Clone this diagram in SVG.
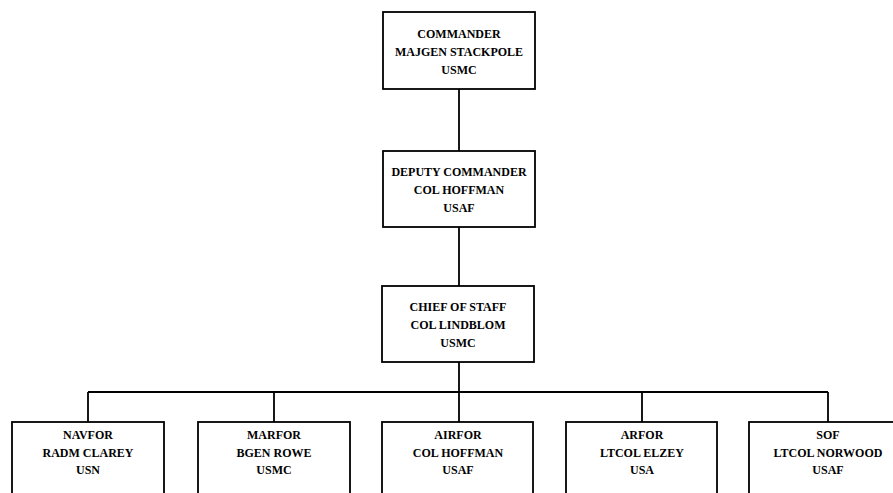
<svg xmlns="http://www.w3.org/2000/svg" width="893" height="493" viewBox="0 0 893 493">
<style>
.box{fill:#fff;stroke:#000;stroke-width:1.8}
.ln{fill:none;stroke:#000;stroke-width:1.8}
text{font-family:"Liberation Serif","Times New Roman",serif;font-weight:bold;font-size:12px;text-anchor:middle;fill:#000}
</style>
<rect width="893" height="493" fill="#fff"/>
<g id="connectors">
<path class="ln" d="M459 89V151M459 227V286M459 362V392M88 392H828M88 392V422M274 392V422M459 392V422M642 392V422M828 392V422"/>
</g>
<g id="commander"><rect class="box" x="383" y="12" width="152" height="77"/>
<text x="459" y="38">COMMANDER</text><text x="459" y="56">MAJGEN STACKPOLE</text><text x="459" y="74">USMC</text></g>
<g id="deputy"><rect class="box" x="383" y="151" width="152" height="76"/>
<text x="459" y="176">DEPUTY COMMANDER</text><text x="459" y="194">COL HOFFMAN</text><text x="459" y="212">USAF</text></g>
<g id="chief"><rect class="box" x="382" y="286" width="152" height="76"/>
<text x="458" y="311">CHIEF OF STAFF</text><text x="458" y="329">COL LINDBLOM</text><text x="458" y="347">USMC</text></g>
<g id="navfor"><rect class="box" x="12" y="422" width="152" height="90"/>
<text x="88" y="439">NAVFOR</text><text x="88" y="457">RADM CLAREY</text><text x="88" y="474">USN</text></g>
<g id="marfor"><rect class="box" x="198" y="422" width="152" height="90"/>
<text x="274" y="439">MARFOR</text><text x="274" y="457">BGEN ROWE</text><text x="274" y="474">USMC</text></g>
<g id="airfor"><rect class="box" x="382" y="422" width="151" height="90"/>
<text x="458" y="439">AIRFOR</text><text x="458" y="457">COL HOFFMAN</text><text x="458" y="474">USAF</text></g>
<g id="arfor"><rect class="box" x="566" y="422" width="151" height="90"/>
<text x="642" y="439">ARFOR</text><text x="642" y="457">LTCOL ELZEY</text><text x="642" y="474">USA</text></g>
<g id="sof"><rect class="box" x="749" y="422" width="158" height="90"/>
<text x="828" y="439">SOF</text><text x="828" y="457">LTCOL NORWOOD</text><text x="828" y="474">USAF</text></g>
</svg>
